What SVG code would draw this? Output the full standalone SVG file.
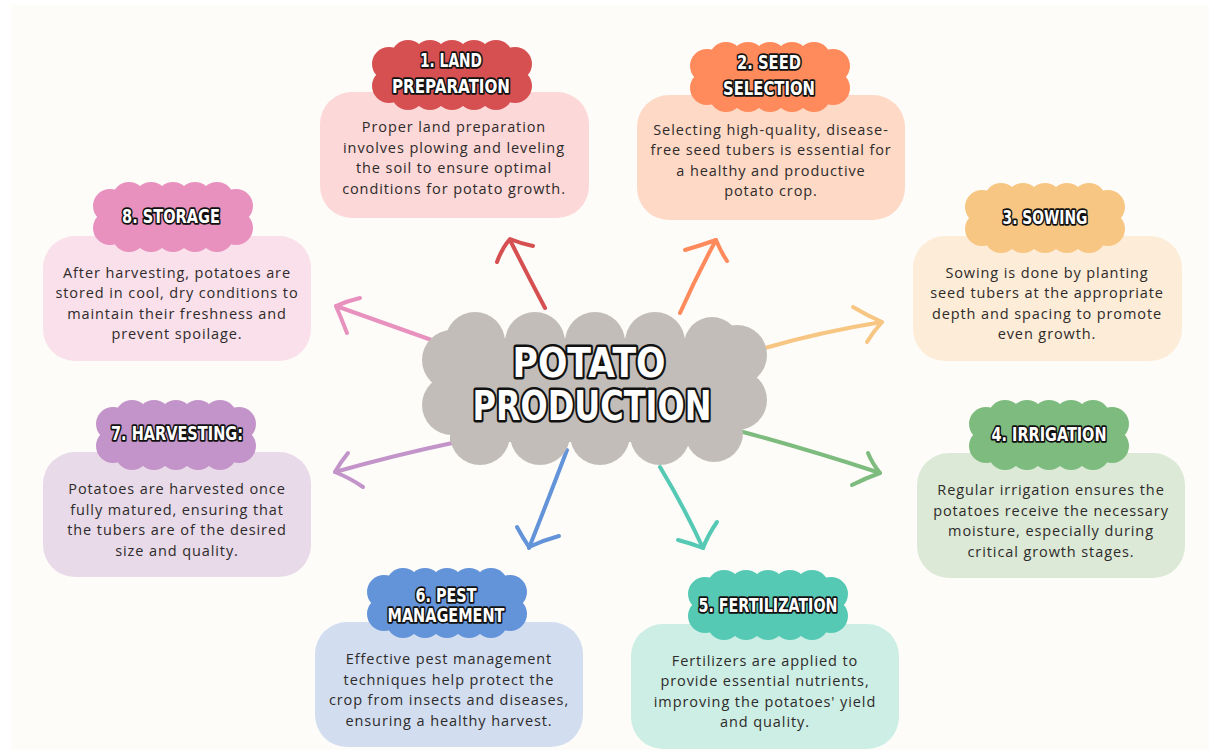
<svg xmlns="http://www.w3.org/2000/svg" xmlns:xlink="http://www.w3.org/1999/xlink" width="1209" height="750" viewBox="0 0 1209 750">
<style>
.box{stroke:none}
.body{font-family:"Open Sans","DejaVu Sans",sans-serif;font-size:14.5px;fill:#2e2b2b;text-anchor:middle;letter-spacing:0.9px}
.ttl{font-family:"DejaVu Sans Condensed","DejaVu Sans",sans-serif;font-weight:bold;font-size:19px;fill:#ffffff;stroke:#111;stroke-width:3.5px;stroke-linejoin:round;paint-order:stroke;text-anchor:middle}
.big{font-family:"DejaVu Sans","Liberation Sans",sans-serif;font-weight:bold;font-size:40px;fill:#ffffff;stroke:#111;stroke-width:5px;stroke-linejoin:round;paint-order:stroke;text-anchor:middle}
.arr{fill:none;stroke-width:4;stroke-linecap:round;stroke-linejoin:round}
</style>
<defs>
<g id="tcloud">
<rect x="17" y="17" width="126" height="36"/>
<circle cx="36" cy="17" r="17"/><circle cx="58" cy="17" r="17"/><circle cx="80" cy="17" r="17"/><circle cx="102" cy="17" r="17"/><circle cx="124" cy="17" r="17"/>
<circle cx="36" cy="53" r="17"/><circle cx="58" cy="53" r="17"/><circle cx="80" cy="53" r="17"/><circle cx="102" cy="53" r="17"/><circle cx="124" cy="53" r="17"/>
<circle cx="17" cy="24" r="17"/><circle cx="17" cy="46" r="17"/><circle cx="143" cy="24" r="17"/><circle cx="143" cy="46" r="17"/>
</g>
</defs>
<rect x="0" y="0" width="1209" height="750" fill="#ffffff"/>
<rect x="11" y="5" width="1198" height="745" fill="#fdfcf9"/>

<g id="connectors">
<g stroke="#d65052" class="arr"><path d="M545,308 Q526,272 510,240"/><path d="M497,262 Q502,248 510,239 Q522,244 533,246"/></g>
<g stroke="#ff8a5b" class="arr"><path d="M680,313 Q697,275 716,240"/><path d="M685,250 Q702,245 716,240 Q721,252 727,261"/></g>
<g stroke="#f8c683" class="arr"><path d="M765,348 Q820,332 882,322"/><path d="M853,307 Q868,316 882,322 Q873,332 867,342"/></g>
<g stroke="#7dbc7e" class="arr"><path d="M743,432 Q810,450 880,473"/><path d="M868,453 Q872,463 880,473 Q866,478 852,485"/></g>
<g stroke="#55c9b4" class="arr"><path d="M660,467 Q683,505 703,548"/><path d="M717,522 Q708,535 703,548 Q690,543 678,540"/></g>
<g stroke="#6393d8" class="arr"><path d="M567,450 Q548,500 529,548"/><path d="M517,527 Q523,538 529,547 Q544,540 559,536"/></g>
<g stroke="#c394c9" class="arr"><path d="M457,442 Q395,455 335,472"/><path d="M348,453 Q340,463 335,472 Q350,478 363,487"/></g>
<g stroke="#e891be" class="arr"><path d="M440,343 Q390,325 336,306"/><path d="M360,298 Q347,301 336,306 Q342,320 347,333"/></g>
</g>

<g id="center">
<g fill="#c2bdb9">
<rect x="450" y="338" width="290" height="104"/>
<circle cx="475" cy="342" r="30"/><circle cx="535" cy="342" r="30"/><circle cx="595" cy="342" r="30"/><circle cx="655" cy="342" r="30"/><circle cx="712" cy="345" r="28"/>
<circle cx="480" cy="435" r="30"/><circle cx="540" cy="435" r="30"/><circle cx="600" cy="435" r="30"/><circle cx="660" cy="435" r="30"/><circle cx="714" cy="433" r="29"/>
<circle cx="452" cy="360" r="30"/><circle cx="452" cy="405" r="30"/><circle cx="737" cy="355" r="30"/><circle cx="737" cy="400" r="30"/>
</g>
<text class="big" x="589" y="377" textLength="153" lengthAdjust="spacingAndGlyphs">POTATO</text>
<text class="big" x="592" y="420" textLength="239" lengthAdjust="spacingAndGlyphs">PRODUCTION</text>
</g>

<g id="node1">
<rect class="box" x="320" y="92" width="269" height="126" rx="32" fill="#fcd8d8"/>
<use xlink:href="#tcloud" href="#tcloud" x="372" y="40" fill="#d65052"/>
<text class="ttl" x="451" y="67" textLength="62" lengthAdjust="spacingAndGlyphs">1. LAND</text>
<text class="ttl" x="451" y="93" textLength="118" lengthAdjust="spacingAndGlyphs">PREPARATION</text>
<text class="body" x="454" y="132">Proper land preparation</text>
<text class="body" x="454" y="153">involves plowing and leveling</text>
<text class="body" x="454" y="173">the soil to ensure optimal</text>
<text class="body" x="454" y="194">conditions for potato growth.</text>
</g>

<g id="node2">
<rect class="box" x="637" y="95" width="268" height="125" rx="32" fill="#fed9c6"/>
<use xlink:href="#tcloud" href="#tcloud" x="690" y="42" fill="#ff8a5b"/>
<text class="ttl" x="769" y="69" textLength="64" lengthAdjust="spacingAndGlyphs">2. SEED</text>
<text class="ttl" x="769" y="95" textLength="92" lengthAdjust="spacingAndGlyphs">SELECTION</text>
<text class="body" x="771" y="135">Selecting high-quality, disease-</text>
<text class="body" x="771" y="155">free seed tubers is essential for</text>
<text class="body" x="771" y="176">a healthy and productive</text>
<text class="body" x="771" y="196">potato crop.</text>
</g>

<g id="node3">
<rect class="box" x="913" y="236" width="269" height="125" rx="32" fill="#fdecd7"/>
<use xlink:href="#tcloud" href="#tcloud" x="965" y="183" fill="#f8c683"/>
<text class="ttl" x="1045" y="224" textLength="85" lengthAdjust="spacingAndGlyphs">3. SOWING</text>
<text class="body" x="1047" y="278">Sowing is done by planting</text>
<text class="body" x="1047" y="298">seed tubers at the appropriate</text>
<text class="body" x="1047" y="319">depth and spacing to promote</text>
<text class="body" x="1047" y="339">even growth.</text>
</g>

<g id="node4">
<rect class="box" x="917" y="453" width="268" height="125" rx="32" fill="#dbe9d6"/>
<use xlink:href="#tcloud" href="#tcloud" x="969" y="400" fill="#7dbc7e"/>
<text class="ttl" x="1049" y="441" textLength="115" lengthAdjust="spacingAndGlyphs">4. IRRIGATION</text>
<text class="body" x="1051" y="495">Regular irrigation ensures the</text>
<text class="body" x="1051" y="516">potatoes receive the necessary</text>
<text class="body" x="1051" y="536">moisture, especially during</text>
<text class="body" x="1051" y="557">critical growth stages.</text>
</g>

<g id="node5">
<rect class="box" x="631" y="624" width="268" height="125" rx="32" fill="#cdeee4"/>
<use xlink:href="#tcloud" href="#tcloud" x="688" y="570" fill="#55c9b4"/>
<text class="ttl" x="768" y="612" textLength="139" lengthAdjust="spacingAndGlyphs">5. FERTILIZATION</text>
<text class="body" x="765" y="666">Fertilizers are applied to</text>
<text class="body" x="765" y="686">provide essential nutrients,</text>
<text class="body" x="765" y="707">improving the potatoes' yield</text>
<text class="body" x="765" y="727">and quality.</text>
</g>

<g id="node6">
<rect class="box" x="315" y="622" width="268" height="125" rx="32" fill="#d2def0"/>
<use xlink:href="#tcloud" href="#tcloud" x="367" y="568" fill="#6393d8"/>
<text class="ttl" x="446" y="602" textLength="61" lengthAdjust="spacingAndGlyphs">6. PEST</text>
<text class="ttl" x="446" y="622" textLength="117" lengthAdjust="spacingAndGlyphs">MANAGEMENT</text>
<text class="body" x="449" y="664">Effective pest management</text>
<text class="body" x="449" y="685">techniques help protect the</text>
<text class="body" x="449" y="705">crop from insects and diseases,</text>
<text class="body" x="449" y="726">ensuring a healthy harvest.</text>
</g>

<g id="node7">
<rect class="box" x="43" y="452" width="268" height="125" rx="32" fill="#e8dae8"/>
<use xlink:href="#tcloud" href="#tcloud" x="96" y="400" fill="#c394c9"/>
<text class="ttl" x="177" y="440" textLength="132" lengthAdjust="spacingAndGlyphs">7. HARVESTING:</text>
<text class="body" x="177" y="494">Potatoes are harvested once</text>
<text class="body" x="177" y="515">fully matured, ensuring that</text>
<text class="body" x="177" y="535">the tubers are of the desired</text>
<text class="body" x="177" y="556">size and quality.</text>
</g>

<g id="node8">
<rect class="box" x="43" y="236" width="268" height="125" rx="32" fill="#f9e0ea"/>
<use xlink:href="#tcloud" href="#tcloud" x="93" y="182" fill="#e891be"/>
<text class="ttl" x="171" y="223" textLength="98" lengthAdjust="spacingAndGlyphs">8. STORAGE</text>
<text class="body" x="177" y="278">After harvesting, potatoes are</text>
<text class="body" x="177" y="298">stored in cool, dry conditions to</text>
<text class="body" x="177" y="319">maintain their freshness and</text>
<text class="body" x="177" y="339">prevent spoilage.</text>
</g>
</svg>
